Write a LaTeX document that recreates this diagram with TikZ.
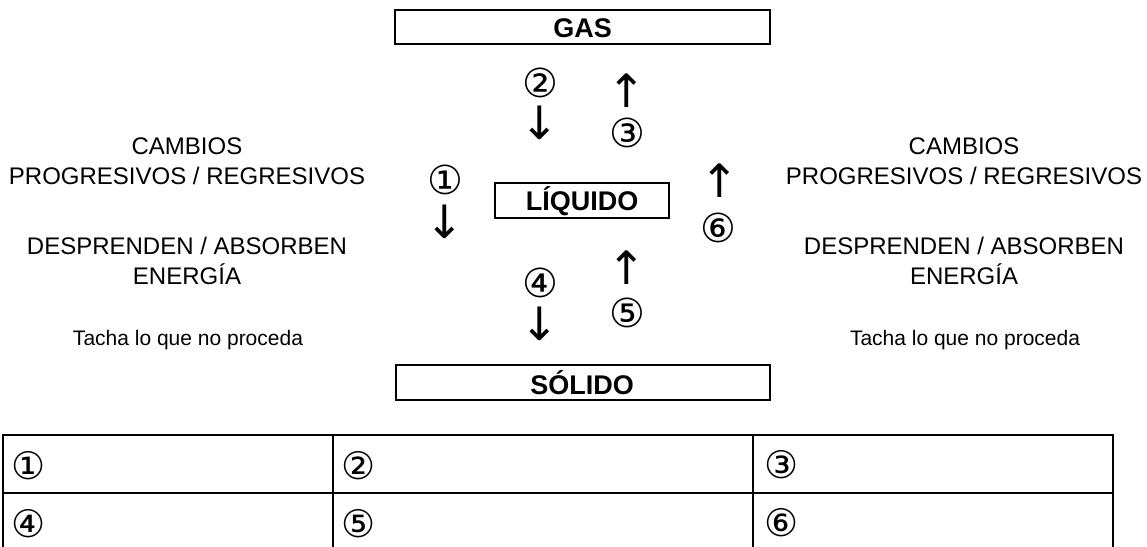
\documentclass[tikz,border=0pt]{standalone}
\usepackage{fontspec}
\setmainfont{Liberation Sans}
\newfontfamily\dv{DejaVu Sans}
\begin{document}
\begin{tikzpicture}[x=1pt,y=-1pt,
  statebox/.style={draw,line width=2pt,inner sep=0pt},
  statelbl/.style={font=\fontsize{27}{27}\selectfont\bfseries},
  sidetxt/.style={font=\fontsize{24}{24}\selectfont,align=center},
  smalltxt/.style={font=\fontsize{21}{21}\selectfont},
  num/.style={font=\dv\fontsize{40}{40}\selectfont,inner sep=0pt},
  arr/.style={font=\dv\fontsize{46}{46}\selectfont,inner sep=0pt},
  tabline/.style={line width=2pt},
  cellnum/.style={font=\dv\fontsize{38}{38}\selectfont,inner sep=0pt,anchor=west}]
\useasboundingbox (0,0) rectangle (1147,546);
% state boxes
\node[statebox,minimum width=375pt,minimum height=34pt] (gas) at (582.5,27) {};
\node[statelbl] (gast) at (582.5,28) {GAS};
\node[statebox,minimum width=174pt,minimum height=35pt] (liq) at (582,200.5) {};
\node[statelbl] (liqt) at (582,201) {LÍQUIDO};
\node[statebox,minimum width=374pt,minimum height=35pt] (sol) at (583,382.5) {};
\node[statelbl] (solt) at (582,383) {SÓLIDO};
% numbers and arrows
\node[num] (n2) at (540,83) {②};
\node[arr] (a2) at (540,123) {↓};
\node[arr] (a3) at (627,91) {↑};
\node[num] (n3) at (627,133) {③};
\node[num] (n1) at (445,180) {①};
\node[arr] (a1) at (445,222) {↓};
\node[arr] (a6) at (720,181) {↑};
\node[num] (n6) at (718,228) {⑥};
\node[num] (n4) at (540,283) {④};
\node[arr] (a4) at (540,324) {↓};
\node[arr] (a5) at (627,268) {↑};
\node[num] (n5) at (627,313) {⑤};
% side texts left
\node[sidetxt] (lc) at (187,161) {CAMBIOS\\[6pt]PROGRESIVOS / REGRESIVOS};
\node[sidetxt] (ld) at (187,261) {DESPRENDEN / ABSORBEN\\[6pt]ENERGÍA};
\node[smalltxt] (lt) at (188,340) {Tacha lo que no proceda};
% side texts right
\node[sidetxt] (rc) at (964,161) {CAMBIOS\\[6pt]PROGRESIVOS / REGRESIVOS};
\node[sidetxt] (rd) at (964,261) {DESPRENDEN / ABSORBEN\\[6pt]ENERGÍA};
\node[smalltxt] (rt) at (965,340) {Tacha lo que no proceda};
% table
\draw[tabline] (3,435) rectangle (1113,560);
\draw[tabline] (3,493) -- (1113,493);
\draw[tabline] (333,435) -- (333,560);
\draw[tabline] (753,435) -- (753,560);
\node[cellnum] (t1) at (11,466) {①};
\node[cellnum] (t2) at (341,466) {②};
\node[cellnum] (t3) at (764,465) {③};
\node[cellnum] (t4) at (11,524) {④};
\node[cellnum] (t5) at (341,524) {⑤};
\node[cellnum] (t6) at (764,523) {⑥};
\end{tikzpicture}
\end{document}
